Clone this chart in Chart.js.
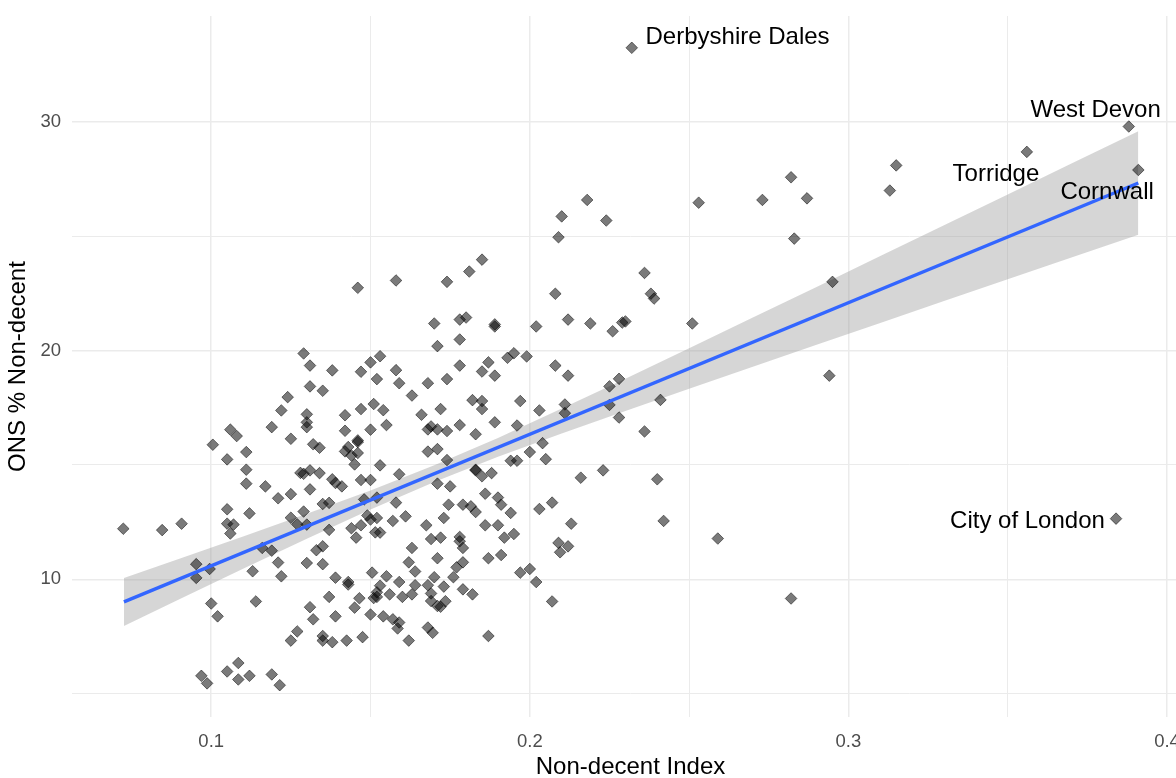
<!DOCTYPE html>
<html><head><meta charset="utf-8">
<script src="https://cdn.jsdelivr.net/npm/chart.js@4/dist/chart.umd.min.js"></script>
<style>
html,body{margin:0;padding:0;overflow:hidden;background:#fff;width:1176px;height:778px;}
#wrap{position:absolute;left:0;top:0;width:1200px;height:780px;}
</style></head><body>
<div id="wrap"><canvas id="c" width="1200" height="780"></canvas></div>
<script>
// ---- data ----
const nonDecentIndex = [
0.146,0.158,0.174,0.181,0.185,0.209,0.210,0.218,0.208,0.170,0.178,0.180,0.189,0.189,0.202,0.212,0.219,0.178,
0.224,0.253,0.273,0.282,0.287,0.283,0.313,0.315,0.236,0.238,0.239,0.226,0.229,0.230,0.251,0.295,0.294,0.225,
0.228,0.241,0.228,0.225,0.236,0.223,0.240,0.242,0.259,0.282,0.356,0.388,0.391,0.384,0.232,
0.129,0.131,0.138,0.131,0.135,0.124,0.122,0.130,0.130,0.130,0.119,0.106,0.108,0.125,0.1005,0.111,0.132,0.134,
0.105,0.111,0.128,0.129,0.131,0.134,
0.0724,0.0846,0.0907,0.0953,0.0953,0.0995,0.100,0.102,0.105,0.105,0.107,0.106,0.112,0.113,0.114,0.116,0.119,
0.121,0.122,0.111,0.117,0.121,0.125,0.125,0.127,0.129,0.131,0.130,0.135,0.137,0.130,0.133,0.135,0.135,0.137,
0.137,0.131,0.132,0.127,0.125,0.135,0.135,0.0969,0.0987,0.105,0.1085,0.1085,0.112,0.119,0.1215,
0.171,0.147,0.150,0.153,0.152,0.158,0.159,0.168,0.174,0.178,0.185,0.187,0.189,0.193,0.195,0.199,0.208,0.212,
0.163,0.182,0.185,0.185,0.197,0.203,0.211,0.211,0.142,0.147,0.151,0.154,0.155,0.150,0.142,0.166,0.172,0.168,
0.169,0.171,0.174,0.178,0.183,0.189,0.196,0.146,0.146,0.143,0.142,0.144,0.146,0.145,0.153,0.168,0.171,0.174,
0.183,0.183,0.185,0.188,0.194,0.196,0.200,0.204,0.205,0.216,0.159,0.138,0.147,0.150,0.139,0.141,0.171,0.175,
0.186,0.190,0.191,0.194,0.203,0.207,0.213,0.209,0.212,0.2095,0.197,0.200,0.202,0.207,0.187,
0.148,0.152,0.158,0.149,0.150,0.152,0.144,0.1455,0.147,0.1515,0.153,0.157,0.161,0.1675,0.173,0.1745,0.179,
0.1815,0.183,0.186,0.190,0.192,0.195,0.191,0.187,0.169,0.172,0.163,0.178,0.178,0.179,0.171,0.162,0.164,0.179,
0.177,0.176,0.170,0.173,0.168,0.169,0.169,0.171,0.172,0.1735,0.179,0.182,0.1505,0.155,0.159,0.153,0.152,0.151,
0.152,0.156,0.160,0.163,0.164,0.139,0.143,0.143,0.1465,0.145,0.150,0.154,0.157,0.159,0.1585,0.139,0.168,0.1695,
0.162,0.138,0.1425,0.1475
];
const onsPctNonDecent = [
22.74,23.06,23.0,23.45,23.97,24.95,25.86,26.58,22.48,21.18,21.35,21.44,21.14,21.05,21.05,21.35,21.18,20.48,
25.68,26.46,26.58,27.57,26.65,24.89,26.99,28.09,23.39,22.48,22.27,20.84,21.22,21.27,21.18,23.0,18.90,18.43,
18.76,17.84,17.07,17.62,16.46,14.76,14.37,12.55,11.78,9.16,28.68,29.79,27.89,12.65,33.23,
19.87,19.34,19.13,18.43,18.24,17.96,17.38,17.21,16.86,16.65,16.65,16.54,16.26,16.14,15.88,15.56,15.90,15.75,
15.24,14.79,14.65,14.61,14.76,14.64,
12.21,12.15,12.43,10.66,10.06,10.45,8.94,8.38,13.06,12.43,12.39,12.0,12.88,10.35,9.03,11.37,11.25,
10.73,10.13,14.18,14.06,13.54,13.72,12.69,12.40,12.96,13.93,12.39,13.29,13.34,10.71,11.27,10.66,11.44,12.16,
9.23,8.78,8.25,7.72,7.32,7.52,7.32,5.78,5.45,5.97,6.34,5.62,5.78,5.84,5.37,
20.19,19.07,19.48,19.75,18.75,19.14,18.57,18.57,18.75,19.34,19.08,19.48,18.90,19.68,19.88,19.74,19.34,18.90,
18.03,17.83,17.79,17.44,17.79,17.38,17.64,17.26,17.17,17.44,17.66,17.39,16.74,16.54,16.49,17.19,17.44,16.55,
16.68,16.55,16.48,16.74,16.34,16.86,16.72,16.07,16.0,15.78,15.59,15.41,15.52,15.02,14.98,15.58,15.69,15.21,
14.79,14.76,14.50,14.64,15.18,15.18,15.56,15.95,15.25,14.44,14.59,14.37,14.34,14.34,14.21,14.06,14.18,14.06,
13.74,13.57,13.26,12.90,13.07,13.35,12.43,11.59,11.44,11.18,10.29,10.45,9.88,9.03,7.52,
13.49,13.57,13.35,12.79,12.61,12.68,12.23,11.82,12.36,12.05,12.04,12.55,12.75,12.36,12.68,13.26,13.26,
13.19,12.94,12.36,12.36,11.82,11.98,11.06,10.92,11.76,11.82,11.37,11.85,11.66,11.37,10.92,10.74,10.34,10.74,
10.52,10.09,10.09,9.68,9.74,9.38,9.05,8.83,8.80,9.04,9.56,9.34,10.29,10.13,9.88,9.72,9.43,9.18,
9.23,9.34,9.23,9.34,9.74,10.07,9.88,9.77,9.17,8.76,8.46,8.38,8.25,8.11,7.85,8.38,7.89,7.66,
7.32,7.25,7.32,7.47
];
const labelledAreas = ['Derbyshire Dales','West Devon','Torridge','Cornwall','City of London'];
// fitted linear trend and its confidence band
const fitX = [0.0726, 0.391];
const fitY = [9.01, 27.32];
const bandX    = [0.0726,0.09,0.11,0.13,0.15,0.17,0.19,0.21,0.23,0.25,0.27,0.29,0.31,0.33,0.35,0.37,0.391];
const bandLow  = [7.96,9.13,10.46,11.77,13.05,14.25,15.35,16.37,17.36,18.33,19.29,20.25,21.20,22.16,23.11,24.06,25.06];
const bandHigh = [10.06,10.90,11.87,12.86,13.88,14.98,16.18,17.46,18.77,20.10,21.44,22.78,24.13,25.47,26.82,28.17,29.58];
// axis ticks
const xMajorTicks = [0.1,0.2,0.3,0.4];
const xMinorTicks = [0.15,0.25,0.35];
const yMajorTicks = [10,20,30];
const yMinorTicks = [5,15,25];

// ---- presentation ----
const labelPlacement = [
  {name:labelledAreas[0], x:0.2652, y:33.67},
  {name:labelledAreas[1], x:0.3776, y:30.48},
  {name:labelledAreas[2], x:0.3463, y:27.69},
  {name:labelledAreas[3], x:0.3812, y:26.91},
  {name:labelledAreas[4], x:0.3562, y:12.53}
];
const FONT = '"Liberation Sans", Arial, sans-serif';
Chart.defaults.font.family = FONT;

const textLabels = {
  id:'textLabels',
  afterDatasetsDraw(chart){
    const {ctx, scales:{x,y}} = chart;
    ctx.save();
    ctx.font = '24px ' + FONT;
    ctx.fillStyle = '#000';
    ctx.textAlign = 'center';
    ctx.textBaseline = 'middle';
    labelPlacement.forEach(l => ctx.fillText(l.name, x.getPixelForValue(l.x), y.getPixelForValue(l.y)));
    ctx.restore();
  }
};

const isMajor = (v, list) => list.some(m => Math.abs(m - v) < 1e-9);

new Chart(document.getElementById('c'), {
  type:'scatter',
  data:{
    datasets:[
      {label:'fit', data: fitX.map((v,i)=>({x:v,y:fitY[i]})), showLine:true, borderColor:'#3366FF', borderWidth:3.4,
       pointRadius:0, fill:false, order:1},
      {label:'areas', data: nonDecentIndex.map((v,i)=>({x:v,y:onsPctNonDecent[i]})), pointStyle:'rectRot', pointRadius:5.8,
       backgroundColor:'rgba(0,0,0,0.52)', borderColor:'rgba(0,0,0,0.5)', borderWidth:1, showLine:false, order:2},
      {label:'upper', data: bandX.map((v,i)=>({x:v,y:bandHigh[i]})), showLine:true, borderWidth:0, borderColor:'rgba(0,0,0,0)',
       pointRadius:0, fill:'+1', backgroundColor:'rgba(153,153,153,0.4)', order:3},
      {label:'lower', data: bandX.map((v,i)=>({x:v,y:bandLow[i]})), showLine:true, borderWidth:0, borderColor:'rgba(0,0,0,0)',
       pointRadius:0, fill:false, order:3}
    ]
  },
  options:{
    responsive:false, animation:false,
    layout:{padding:{left:0,top:16,right:11,bottom:0}},
    plugins:{legend:{display:false}, tooltip:{enabled:false}},
    scales:{
      x:{
        type:'linear', min:0.0563, max:0.4069,
        afterBuildTicks: s => { s.ticks = [...xMajorTicks, ...xMinorTicks].sort((a,b)=>a-b).map(v=>({value:v})); },
        afterFit: s => { s.height = 63; s.paddingLeft = 0; s.paddingRight = 0; },
        border:{display:false},
        grid:{color:'#EBEBEB', drawTicks:false, lineWidth: c => (c.tick && isMajor(c.tick.value, xMajorTicks)) ? 1.5 : 1},
        ticks:{autoSkip:false, maxRotation:0, padding:14, color:'#4D4D4D', font:{size:18.5},
               callback: v => isMajor(v, xMajorTicks) ? String(v) : ''},
        title:{display:true, text:'Non-decent Index', color:'#000', font:{size:24, lineHeight:1}, padding:{top:0,bottom:1}}
      },
      y:{
        type:'linear', min:3.98, max:34.62,
        afterBuildTicks: s => { s.ticks = [...yMinorTicks, ...yMajorTicks].sort((a,b)=>a-b).map(v=>({value:v})); },
        afterFit: s => { s.width = 72; s.paddingTop = 0; s.paddingBottom = 0; },
        border:{display:false},
        grid:{color:'#EBEBEB', drawTicks:false, lineWidth: c => (c.tick && isMajor(c.tick.value, yMajorTicks)) ? 1.5 : 1},
        ticks:{autoSkip:false, padding:11, color:'#4D4D4D', font:{size:18.5},
               callback: v => isMajor(v, yMajorTicks) ? String(v) : ''},
        title:{display:true, text:'ONS % Non-decent', color:'#000', font:{size:24, lineHeight:1}, padding:{top:6,bottom:0}}
      }
    }
  },
  plugins:[textLabels]
});
</script>
</body></html>
